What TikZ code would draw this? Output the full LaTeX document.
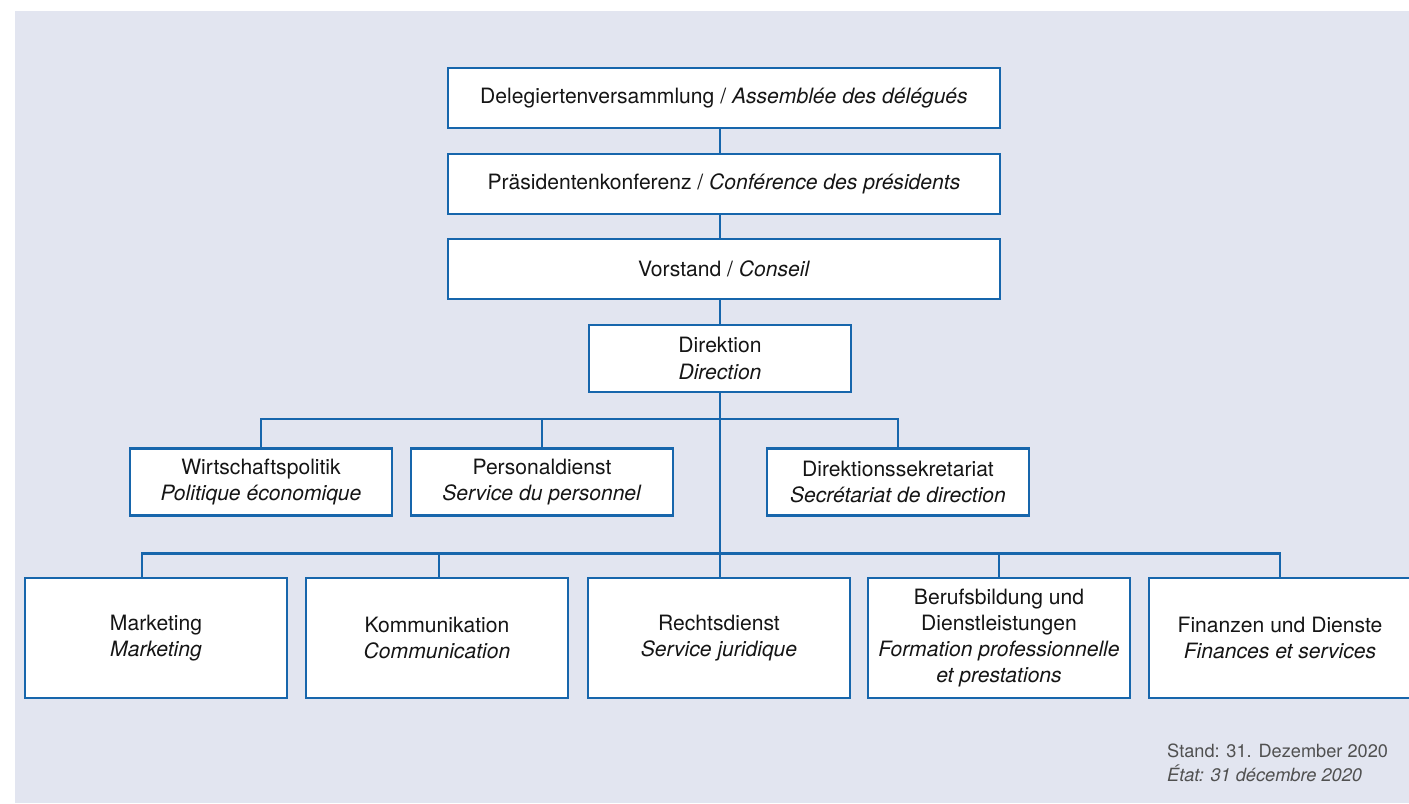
\documentclass[tikz,border=0pt]{standalone}
\usepackage{fontspec}
\setmainfont{TeX Gyre Heros}
\usetikzlibrary{backgrounds}
\definecolor{bg}{HTML}{E2E5F0}
\definecolor{ob}{HTML}{1766AC}
\definecolor{txt}{HTML}{151515}
\definecolor{foot}{HTML}{505050}
\newcommand{\mainsz}{\fontsize{21.1bp}{26.3bp}\selectfont}
\newcommand{\footsz}{\fontsize{18.2bp}{24bp}\selectfont}
\tikzset{
  orgbox/.style={draw=ob, line width=2.9bp, fill=white, text=txt, align=center, inner sep=0pt, font=\mainsz},
  widebox/.style={orgbox, minimum width=552bp, minimum height=60bp},
  midbox/.style={orgbox, minimum width=262bp, minimum height=67bp},
  lowbox/.style={orgbox, minimum width=262bp, minimum height=120bp},
  link/.style={draw=ob, line width=2.3bp}
}
\begin{document}
\begin{tikzpicture}[x=1bp,y=-1bp]
\useasboundingbox (0,0) rectangle (1409,803);

\node[widebox] (dv) at (724,98) {Delegiertenversammlung / \textit{Assemblée des délégués}};
\node[widebox] (pk) at (724,184) {Präsidentenkonferenz / \textit{Conférence des présidents}};
\node[widebox] (vs) at (724,269) {Vorstand / \textit{Conseil}};
\node[midbox] (dir) at (720,358.5) {Direktion\\\textit{Direction}};

\node[midbox] (wp) at (261,482) {Wirtschaftspolitik\\\textit{Politique économique}};
\node[midbox] (pd) at (542,482) {Personaldienst\\\textit{Service du personnel}};
\node[midbox] (ds) at (898,482) {Direktionssekretariat\\\textit{Secrétariat de direction}};

\node[lowbox] (mk) at (156,638) {Marketing\\\textit{Marketing}};
\node[lowbox] (km) at (437,638) {Kommunikation\\\textit{Communication}};
\node[lowbox] (rd) at (719,638) {Rechtsdienst\\\textit{Service juridique}};
\node[lowbox] (bb) at (999,638) {Berufsbildung und\\Dienstleistungen\\\textit{Formation professionnelle}\\\textit{et prestations}};
\node[lowbox] (fd) at (1280,638) {Finanzen und Dienste\\\textit{Finances et services}};

\coordinate (ubus) at (720,419);
\coordinate (bus) at (720,553.5);

\begin{scope}[on background layer]
\fill[bg] (15,11) rectangle (1409,803);
\draw[link] (dv.south -| dir.center) -- (pk.north -| dir.center);
\draw[link] (pk.south -| dir.center) -- (vs.north -| dir.center);
\draw[link] (vs.south -| dir.center) -- (dir.north);
\draw[link] (dir.south) -- (bus);
\draw[link] (wp.north) |- (ds.north |- ubus) -- (ds.north);
\draw[link] (pd.north) -- (pd.north |- ubus);
\draw[link] ([xshift=-14bp]mk.north) |- (fd.north |- bus) -- (fd.north);
\draw[link] ([xshift=2bp]km.north) -- ([xshift=2bp]km.north |- bus);
\draw[link] (rd.north -| bus) -- (bus);
\draw[link] (bb.north) -- (bb.north |- bus);
\end{scope}

\node[anchor=base west, align=left, text=foot, font=\footsz, inner sep=0pt] (foot) at (1167,781) {Stand: 31. Dezember 2020\\\textit{État: 31 décembre 2020}};
\end{tikzpicture}
\end{document}
